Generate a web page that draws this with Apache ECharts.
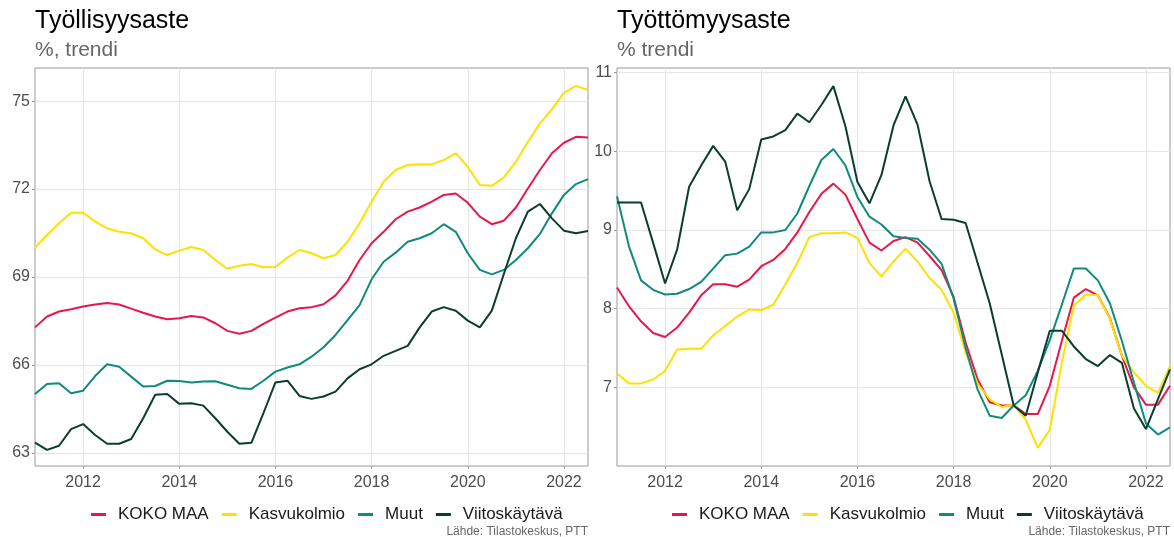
<!DOCTYPE html>
<html>
<head>
<meta charset="utf-8">
<script src="https://cdn.jsdelivr.net/npm/echarts@6/dist/echarts.min.js"></script>
<style>
html, body { margin: 0; padding: 0; background: #fff; }
#root { width: 1174px; height: 537px; }
</style>
</head>
<body>
<div id="root"></div>
<script>
// neljännekset 2011Q1 - 2022Q3
var quarters = [
  '2011Q1','2011Q2','2011Q3','2011Q4','2012Q1','2012Q2','2012Q3','2012Q4',
  '2013Q1','2013Q2','2013Q3','2013Q4','2014Q1','2014Q2','2014Q3','2014Q4',
  '2015Q1','2015Q2','2015Q3','2015Q4','2016Q1','2016Q2','2016Q3','2016Q4',
  '2017Q1','2017Q2','2017Q3','2017Q4','2018Q1','2018Q2','2018Q3','2018Q4',
  '2019Q1','2019Q2','2019Q3','2019Q4','2020Q1','2020Q2','2020Q3','2020Q4',
  '2021Q1','2021Q2','2021Q3','2021Q4','2022Q1','2022Q2','2022Q3'
];
var seriesNames = ['KOKO MAA', 'Kasvukolmio', 'Muut', 'Viitoskäytävä'];
var seriesColors = ['#e8174b', '#ffe000', '#0f8b7d', '#0b3d2e'];

// Työllisyysaste, %, trendi
var emplKoko = [67.28,67.65,67.82,67.90,67.99,68.06,68.11,68.06,67.92,67.78,
  67.65,67.56,67.59,67.67,67.62,67.42,67.16,67.06,67.16,67.40,
  67.61,67.82,67.93,67.97,68.07,68.37,68.87,69.58,70.15,70.54,
  70.97,71.23,71.37,71.57,71.80,71.85,71.53,71.06,70.80,70.92,
  71.37,72.02,72.65,73.22,73.58,73.78,73.76];
var emplKasvu = [70.00,70.43,70.83,71.19,71.19,70.89,70.66,70.54,70.49,70.32,
  69.94,69.75,69.90,70.02,69.92,69.58,69.28,69.38,69.44,69.33,
  69.34,69.66,69.92,69.81,69.64,69.75,70.20,70.83,71.57,72.25,
  72.65,72.82,72.85,72.84,72.99,73.22,72.76,72.14,72.11,72.40,
  72.93,73.61,74.24,74.72,75.28,75.52,75.38];
var emplMuut = [65.01,65.35,65.37,65.03,65.12,65.62,66.02,65.94,65.60,65.26,
  65.28,65.46,65.45,65.40,65.43,65.44,65.32,65.20,65.18,65.46,
  65.77,65.91,66.02,66.28,66.60,67.02,67.53,68.04,68.92,69.52,
  69.83,70.20,70.32,70.49,70.80,70.54,69.81,69.24,69.09,69.24,
  69.58,69.98,70.47,71.17,71.80,72.17,72.34];
var emplViito = [63.35,63.10,63.24,63.81,63.98,63.61,63.31,63.31,63.47,64.18,
  64.98,65.01,64.67,64.69,64.61,64.18,63.72,63.31,63.34,64.35,
  65.40,65.46,64.94,64.84,64.92,65.09,65.54,65.85,66.02,66.31,
  66.48,66.65,67.28,67.82,67.97,67.85,67.51,67.28,67.85,69.10,
  70.32,71.23,71.49,71.00,70.58,70.49,70.57];

// Työttömyysaste, % trendi
var unempKoko = [8.27,8.03,7.84,7.69,7.64,7.76,7.95,8.17,8.31,8.31,
  8.28,8.37,8.54,8.62,8.76,8.97,9.23,9.46,9.59,9.45,
  9.14,8.84,8.74,8.86,8.91,8.84,8.67,8.49,8.15,7.57,
  7.10,6.81,6.77,6.77,6.66,6.66,7.02,7.59,8.14,8.25,
  8.17,7.88,7.40,7.00,6.78,6.78,7.02];
var unempKasvu = [7.18,7.05,7.05,7.10,7.21,7.48,7.49,7.49,7.66,7.78,
  7.90,7.99,7.98,8.05,8.31,8.58,8.91,8.96,8.96,8.97,
  8.90,8.58,8.41,8.60,8.76,8.60,8.39,8.24,7.95,7.44,
  7.04,6.85,6.75,6.78,6.59,6.23,6.46,7.31,8.04,8.18,
  8.17,7.87,7.40,7.19,7.02,6.93,7.27];
var unempMuut = [9.43,8.79,8.36,8.24,8.18,8.19,8.25,8.34,8.51,8.68,
  8.70,8.79,8.97,8.97,9.00,9.21,9.56,9.89,10.03,9.82,
  9.42,9.17,9.07,8.92,8.90,8.89,8.75,8.57,8.13,7.50,
  6.97,6.64,6.61,6.77,6.90,7.21,7.60,8.05,8.51,8.51,
  8.36,8.07,7.59,7.06,6.54,6.40,6.49];
var unempViito = [9.35,9.35,9.35,8.84,8.32,8.75,9.55,9.82,10.07,9.87,
  9.25,9.52,10.15,10.19,10.27,10.48,10.37,10.59,10.83,10.32,
  9.61,9.34,9.70,10.33,10.70,10.34,9.62,9.14,9.13,9.09,
  8.58,8.07,7.42,6.77,6.64,7.19,7.72,7.72,7.52,7.36,
  7.27,7.41,7.31,6.73,6.47,6.85,7.23];

var emplTicks = [63, 66, 69, 72, 75];
var unempTicks = [7, 8, 9, 10, 11];

var FONT = '"Liberation Sans", Arial, sans-serif';
var gridColor = '#e6e6e6';

function everyOtherYear(idx) { return idx % 8 === 4; }

function xAxisFor(gi) {
  return {
    type: 'category', gridIndex: gi, data: quarters, boundaryGap: false,
    axisLine: { show: false },
    axisTick: { show: true, interval: everyOtherYear, length: 3, lineStyle: { color: '#999' } },
    axisLabel: { interval: everyOtherYear, formatter: function (v) { return v.slice(0, 4); },
      fontSize: 16, color: '#4d4d4d', fontFamily: FONT, margin: 9 },
    splitLine: { show: true, interval: everyOtherYear, lineStyle: { color: gridColor, width: 1 } }
  };
}

function yAxisFor(gi, min, max, ticks) {
  return {
    type: 'value', gridIndex: gi, min: min, max: max,
    axisLine: { show: false },
    axisTick: { show: true, customValues: ticks, length: 3, lineStyle: { color: '#999' } },
    axisLabel: { customValues: ticks, fontSize: 16, color: '#4d4d4d', fontFamily: FONT, margin: 5 },
    splitLine: { show: true, lineStyle: { color: gridColor, width: 1 } }
  };
}

var lists = [[emplKoko, emplKasvu, emplMuut, emplViito], [unempKoko, unempKasvu, unempMuut, unempViito]];
var series = [];
lists.forEach(function (group, gi) {
  group.forEach(function (vals, k) {
    series.push({
      name: seriesNames[k], type: 'line', xAxisIndex: gi, yAxisIndex: gi,
      data: vals, showSymbol: false, symbol: 'none', animation: false,
      lineStyle: { color: seriesColors[k], width: 2 }, itemStyle: { color: seriesColors[k] }
    });
  });
});

function legendAt(left) {
  return {
    left: left, top: 501, data: seriesNames, icon: 'rect', itemWidth: 15, itemHeight: 3,
    itemGap: 13, selectedMode: false,
    textStyle: { fontSize: 17, color: '#1a1a1a', fontFamily: FONT, padding: [0, 0, 0, 7] }
  };
}

var myChart = echarts.init(document.getElementById('root'));
myChart.setOption({
  animation: false,
  color: seriesColors,
  title: [
    { left: 35, top: 9, padding: 0, itemGap: 6, text: 'Työllisyysaste', subtext: '%, trendi',
      textStyle: { fontSize: 25, fontWeight: 'normal', color: '#000', fontFamily: FONT },
      subtextStyle: { fontSize: 21, color: '#666', fontFamily: FONT } },
    { left: 617, top: 9, padding: 0, itemGap: 6, text: 'Työttömyysaste', subtext: '% trendi',
      textStyle: { fontSize: 25, fontWeight: 'normal', color: '#000', fontFamily: FONT },
      subtextStyle: { fontSize: 21, color: '#666', fontFamily: FONT } }
  ],
  grid: [
    { left: 35, top: 68, width: 553, height: 398, show: true, borderColor: '#999', borderWidth: 1, backgroundColor: '#fff' },
    { left: 617, top: 68, width: 553, height: 398, show: true, borderColor: '#999', borderWidth: 1, backgroundColor: '#fff' }
  ],
  xAxis: [xAxisFor(0), xAxisFor(1)],
  yAxis: [yAxisFor(0, 62.55, 76.13, emplTicks), yAxisFor(1, 6.0, 11.06, unempTicks)],
  legend: [legendAt(86), legendAt(667)],
  graphic: [
    { type: 'text', right: 586, top: 526, style: { text: 'Lähde: Tilastokeskus, PTT', fontSize: 12, fill: '#666', fontFamily: FONT } },
    { type: 'text', right: 4, top: 526, style: { text: 'Lähde: Tilastokeskus, PTT', fontSize: 12, fill: '#666', fontFamily: FONT } }
  ],
  series: series
});
</script>
</body>
</html>
